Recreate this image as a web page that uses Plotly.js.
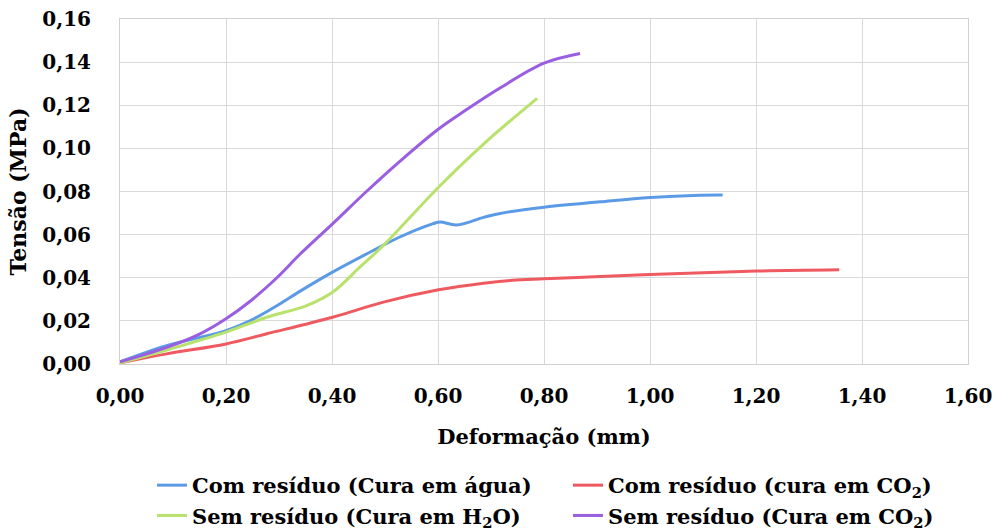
<!DOCTYPE html>
<html><head><meta charset="utf-8">
<script src="https://cdn.plot.ly/plotly-3.0.1.min.js"></script>
<style>html,body{margin:0;padding:0;background:#fff}#chart{width:993px;height:530px}</style>
</head><body><div id="chart"></div>
<script>
const blueX = [0, 0.088, 0.2, 0.245, 0.296, 0.34, 0.401, 0.465, 0.528, 0.591, 0.604, 0.635, 0.686, 0.717, 0.80, 0.906, 1.0, 1.094, 1.137];
const blueY = [0.001, 0.0085, 0.0155, 0.020, 0.027, 0.0338, 0.0426, 0.051, 0.0589, 0.0651, 0.0659, 0.0645, 0.068, 0.0698, 0.0727, 0.0752, 0.0772, 0.0783, 0.0784];
const redX = [0, 0.088, 0.2, 0.277, 0.401, 0.497, 0.601, 0.686, 0.74, 0.80, 0.906, 1.0, 1.201, 1.357];
const redY = [0.0005, 0.0047, 0.0093, 0.014, 0.0217, 0.0287, 0.0344, 0.0375, 0.0388, 0.0395, 0.0406, 0.0415, 0.0431, 0.0437];
const greenX = [0, 0.088, 0.2, 0.277, 0.352, 0.401, 0.453, 0.497, 0.601, 0.686, 0.787];
const greenY = [0.0005, 0.0065, 0.0148, 0.0217, 0.0271, 0.0333, 0.045, 0.055, 0.082, 0.102, 0.1232];
const purpleX = [0, 0.088, 0.151, 0.2, 0.245, 0.296, 0.34, 0.401, 0.465, 0.528, 0.601, 0.654, 0.717, 0.80, 0.868];
const purpleY = [0.001, 0.0077, 0.014, 0.021, 0.029, 0.040, 0.051, 0.065, 0.080, 0.094, 0.109, 0.118, 0.128, 0.1395, 0.144];
const names = ['Com resíduo (Cura em água)', 'Com resíduo (cura em CO<sub>2</sub>)', 'Sem resíduo (Cura em H<sub>2</sub>O)', 'Sem resíduo (Cura em CO<sub>2</sub>)'];
const colors = ['#5B9BE6', '#EE5A60', '#B8E26C', '#9A5EE0'];
const xs = [blueX, redX, greenX, purpleX];
const ys = [blueY, redY, greenY, purpleY];
const traces = xs.map((x, i) => ({
  x: x, y: ys[i], name: names[i], type: 'scatter', mode: 'lines',
  line: {color: colors[i], width: 3, shape: 'spline', smoothing: 1}
}));
const fam = 'DejaVu Serif';
const layout = {
  width: 993, height: 530,
  margin: {l: 120, r: 25, t: 19, b: 166},
  paper_bgcolor: '#fff', plot_bgcolor: '#fff',
  separators: ',.',
  font: {family: fam, color: '#000'},
  xaxis: {
    range: [0, 1.6], dtick: 0.2, tick0: 0, tickformat: '.2f',
    showgrid: true, gridcolor: '#d9d9d9', gridwidth: 1,
    showline: true, linecolor: '#d0d0d0', mirror: true, zeroline: false,
    ticks: '', ticklabelstandoff: 14, automargin: false,
    tickfont: {family: fam, size: 20, color: '#000', weight: 'bold'},
    title: {text: '<b>Deformação (mm)</b>', font: {family: fam, size: 21, color: '#000'}, standoff: 22}
  },
  yaxis: {
    range: [0, 0.16], dtick: 0.02, tick0: 0, tickformat: '.2f',
    showgrid: true, gridcolor: '#d9d9d9', gridwidth: 1,
    showline: true, linecolor: '#d0d0d0', mirror: true, zeroline: false,
    ticks: '', ticklabelstandoff: 24, automargin: false,
    tickfont: {family: fam, size: 20, color: '#000', weight: 'bold'},
    title: {text: '<b>Tensão (MPa)</b>', font: {family: fam, size: 22, color: '#000'}, standoff: 9}
  },
  showlegend: true,
  legend: {
    orientation: 'h', xref: 'container', yref: 'container',
    x: 152 / 993, xanchor: 'left', y: (530 - 465) / 530, yanchor: 'top',
    entrywidth: 371, entrywidthmode: 'pixels',
    font: {family: fam, size: 21, color: '#000', weight: 'bold'},
    itemwidth: 30
  }
};
Plotly.newPlot('chart', traces, layout, {displayModeBar: false, staticPlot: true});
</script>
</body></html>
